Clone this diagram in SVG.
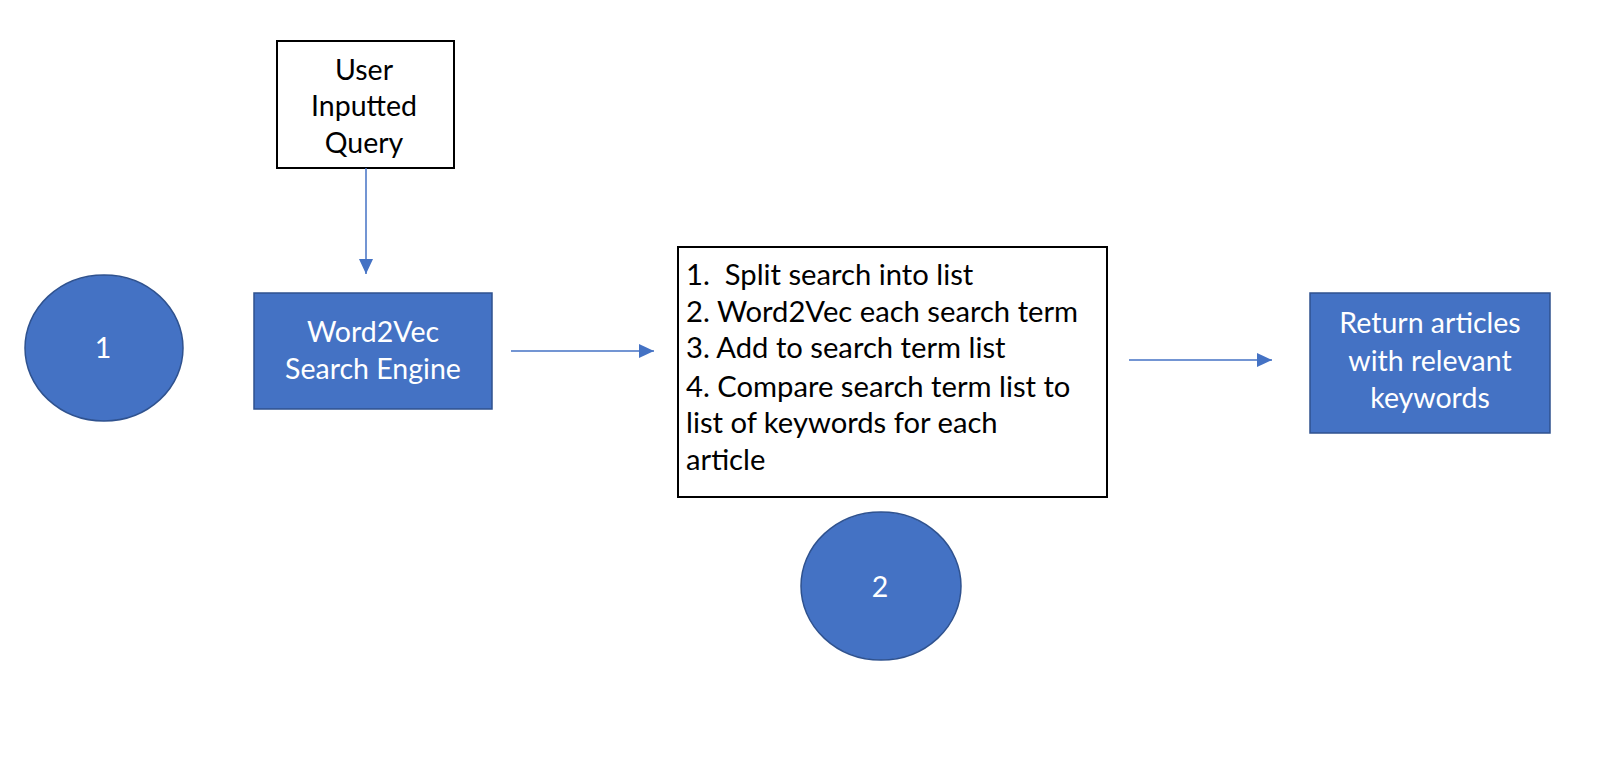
<svg xmlns="http://www.w3.org/2000/svg" width="1620" height="768" viewBox="0 0 1620 768">
<style>
.blue{fill:#4472C4;stroke:#2F528F;stroke-width:1.5}
.white{fill:#FFFFFF;stroke:#000000;stroke-width:2}
.t{font-family:Lato,"Liberation Sans",sans-serif;font-size:28.5px}
.s{font-size:29.2px}
.tw{fill:#FFFFFF}
.tb{fill:#000000}
.c{text-anchor:middle}
.pre{white-space:pre}
.conn{stroke:#4472C4;stroke-width:1.5;fill:none}
</style>
<defs>
<marker id="arr" markerUnits="userSpaceOnUse" markerWidth="16" markerHeight="16" viewBox="0 0 16 16" refX="15" refY="8" orient="auto">
<path d="M0,1 L15,8 L0,15 Z" fill="#4472C4"/>
</marker>
</defs>
<rect width="1620" height="768" fill="#FFFFFF"/>
<g id="circle1">
<ellipse class="blue" cx="104" cy="348" rx="79" ry="73"/>
<text class="t tw c" x="103" y="358">1</text>
</g>
<g id="user-query">
<rect class="white" x="277" y="41" width="177" height="127"/>
<text class="t tb c" x="364" y="80">User</text>
<text class="t tb c" x="364" y="116">Inputted</text>
<text class="t tb c" x="364" y="153">Query</text>
</g>
<g id="search-engine">
<rect class="blue" x="254" y="293" width="238" height="116"/>
<text class="t tw c" x="373" y="342">Word2Vec</text>
<text class="t tw c" x="373" y="379">Search Engine</text>
</g>
<g id="steps">
<rect class="white" x="678" y="247" width="429" height="250"/>
<text class="t s tb pre" xml:space="preserve" x="686" y="285">1.  Split search into list</text>
<text class="t s tb" x="686" y="322">2. Word2Vec each search term</text>
<text class="t s tb" x="686" y="358">3. Add to search term list</text>
<text class="t s tb" x="686" y="397">4. Compare search term list to</text>
<text class="t s tb" x="686" y="433">list of keywords for each</text>
<text class="t s tb" x="686" y="470">article</text>
</g>
<g id="circle2">
<ellipse class="blue" cx="881" cy="586" rx="80" ry="74"/>
<text class="t tw c" x="880" y="597">2</text>
</g>
<g id="results">
<rect class="blue" x="1310" y="293" width="240" height="140"/>
<text class="t tw c" x="1430" y="333">Return articles</text>
<text class="t tw c" x="1430" y="371">with relevant</text>
<text class="t tw c" x="1430" y="408">keywords</text>
</g>
<g id="connectors">
<line class="conn" x1="366" y1="168" x2="366" y2="274" marker-end="url(#arr)"/>
<line class="conn" x1="511" y1="351" x2="654" y2="351" marker-end="url(#arr)"/>
<line class="conn" x1="1129" y1="360" x2="1272" y2="360" marker-end="url(#arr)"/>
</g>
</svg>
